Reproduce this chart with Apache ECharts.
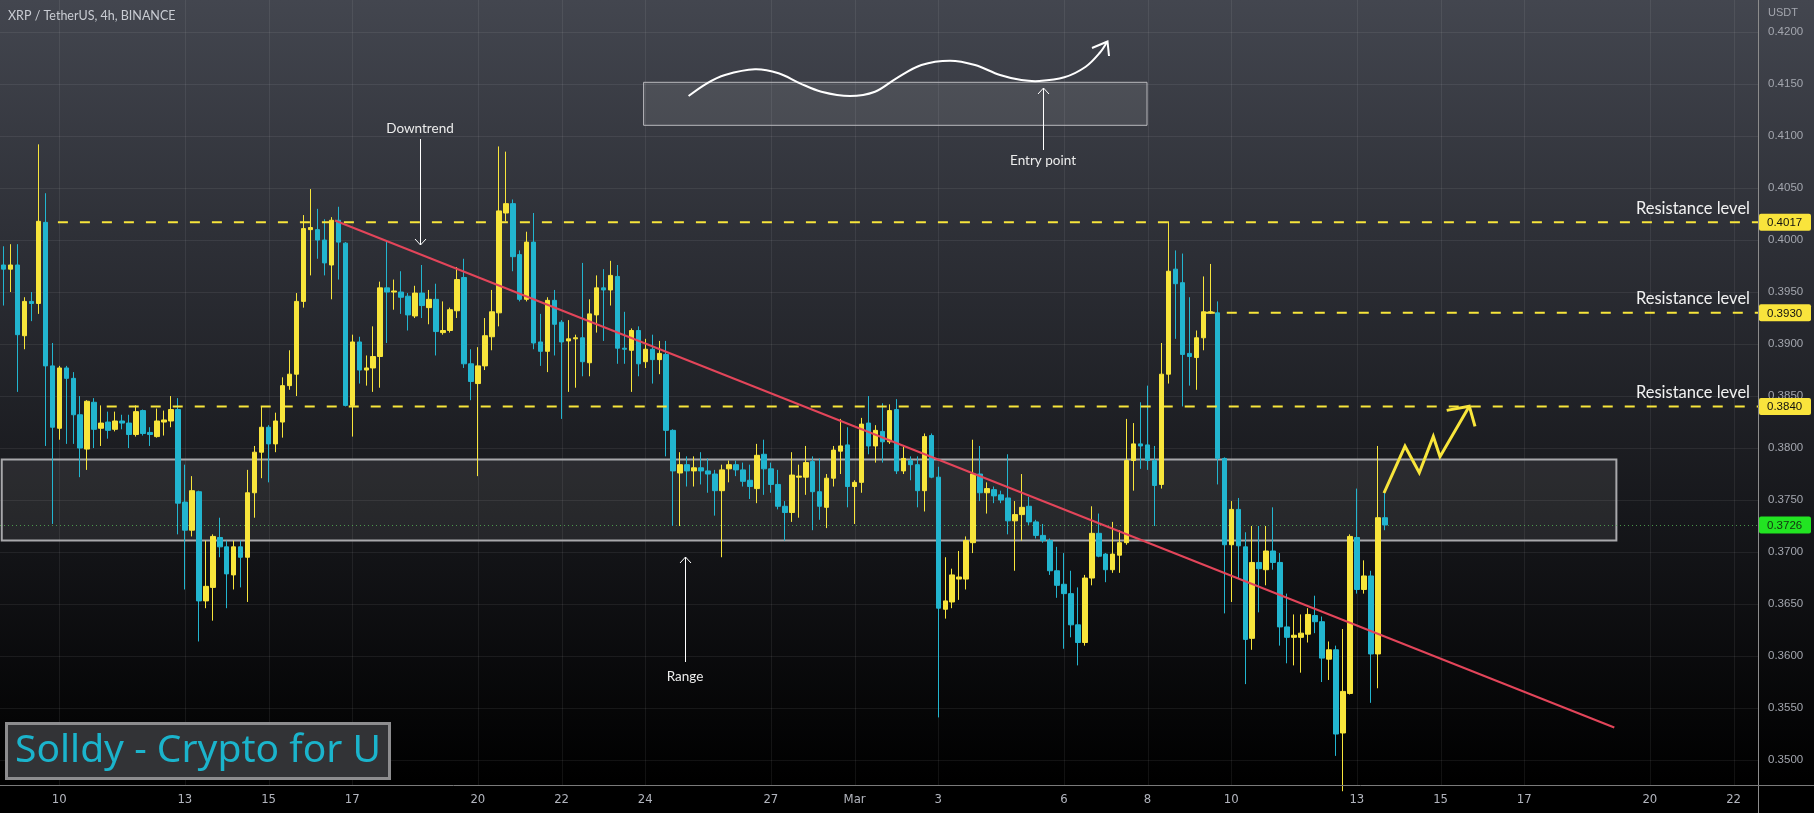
<!DOCTYPE html>
<html><head><meta charset="utf-8">
<script src="https://cdn.jsdelivr.net/npm/echarts@6/dist/echarts.min.js"></script>
<style>html,body{margin:0;padding:0;background:#000;}#c{width:1814px;height:813px;}</style>
</head><body><div id="c"></div>
<script>
// ---- data ----
const startTime = Date.UTC(2023, 1, 8, 16); // first visible 4h candle
const slotCount = 252;                      // visible 4h slots incl. future space
const open = [0.3976,0.3972,0.3976,0.3908,0.3941,0.3939,0.4017,0.3879,0.3819,0.3877,
0.3867,0.3832,0.3799,0.3844,0.3819,0.3825,0.3818,0.3826,0.3824,0.3813,
0.3836,0.3815,0.3811,0.3825,0.3826,0.3837,0.3748,0.3721,0.3758,0.3653,
0.3666,0.3714,0.3705,0.3678,0.3705,0.3695,0.3757,0.3796,0.3820,0.3804,
0.3825,0.3860,0.3871,0.3941,0.4010,0.4010,0.4000,0.3976,0.4019,0.3997,
0.3841,0.3902,0.3875,0.3877,0.3888,0.3954,0.3950,0.3950,0.3946,0.3927,
0.3949,0.3935,0.3943,0.3911,0.3913,0.3932,0.3964,0.3881,0.3862,0.3879,
0.3907,0.3930,0.4026,0.4035,0.3986,0.3943,0.3998,0.3902,0.3893,0.3942,
0.3921,0.3903,0.3905,0.3906,0.3882,0.3928,0.3954,0.3952,0.3965,0.3896,
0.3894,0.3913,0.3883,0.3895,0.3885,0.3890,0.3817,0.3776,0.3784,0.3778,
0.3781,0.3778,0.3775,0.3759,0.3780,0.3784,0.3779,0.3769,0.3761,0.3794,
0.3780,0.3765,0.3744,0.3738,0.3772,0.3772,0.3787,0.3758,0.3743,0.3771,
0.3797,0.3803,0.3763,0.3767,0.3824,0.3802,0.3816,0.3806,0.3837,0.3778,
0.3788,0.3784,0.3759,0.3812,0.3772,0.3645,0.3652,0.3674,0.3674,0.3709,
0.3775,0.3757,0.3760,0.3755,0.3752,0.3730,0.3736,0.3744,0.3729,0.3716,
0.3711,0.3682,0.3669,0.3660,0.3630,0.3613,0.3675,0.3718,0.3698,0.3683,
0.3697,0.3709,0.3788,0.3804,0.3803,0.3788,0.3765,0.3871,0.3972,0.3959,
0.3891,0.3887,0.3906,0.3930,0.3930,0.3790,0.3707,0.3741,0.3705,0.3617,
0.3690,0.3683,0.3701,0.3690,0.3628,0.3618,0.3618,0.3621,0.3639,0.3633,
0.3597,0.3606,0.3526,0.3564,0.3714,0.3664,0.3677,0.3602,0.3733];
const close = [0.3972,0.3976,0.3909,0.3941,0.3939,0.4018,0.3879,0.3820,0.3877,0.3867,
0.3832,0.3800,0.3845,0.3818,0.3824,0.3817,0.3826,0.3824,0.3813,0.3835,
0.3814,0.3813,0.3826,0.3827,0.3837,0.3747,0.3721,0.3759,0.3653,0.3667,
0.3715,0.3705,0.3679,0.3705,0.3695,0.3757,0.3796,0.3820,0.3804,0.3826,
0.3860,0.3871,0.3941,0.4011,0.4012,0.4000,0.3978,0.4019,0.3998,0.3841,
0.3902,0.3875,0.3877,0.3888,0.3954,0.3950,0.3951,0.3945,0.3928,0.3949,
0.3937,0.3943,0.3912,0.3913,0.3933,0.3962,0.3881,0.3864,0.3879,0.3908,
0.3931,0.4028,0.4035,0.3984,0.3943,0.3998,0.3901,0.3893,0.3942,0.3919,
0.3902,0.3905,0.3906,0.3883,0.3929,0.3954,0.3952,0.3966,0.3896,0.3895,
0.3913,0.3881,0.3895,0.3885,0.3891,0.3817,0.3778,0.3784,0.3778,0.3781,
0.3778,0.3775,0.3759,0.3779,0.3784,0.3779,0.3768,0.3763,0.3793,0.3780,
0.3765,0.3744,0.3738,0.3774,0.3773,0.3786,0.3758,0.3744,0.3771,0.3798,
0.3802,0.3763,0.3767,0.3823,0.3802,0.3817,0.3806,0.3836,0.3778,0.3790,
0.3784,0.3759,0.3811,0.3772,0.3646,0.3653,0.3678,0.3676,0.3711,0.3775,
0.3757,0.3761,0.3754,0.3750,0.3730,0.3736,0.3743,0.3729,0.3716,0.3711,
0.3682,0.3668,0.3660,0.3630,0.3613,0.3675,0.3718,0.3696,0.3683,0.3698,
0.3709,0.3788,0.3804,0.3802,0.3788,0.3764,0.3871,0.3970,0.3958,0.3890,
0.3888,0.3906,0.3931,0.3931,0.3790,0.3707,0.3741,0.3706,0.3616,0.3690,
0.3684,0.3701,0.3690,0.3628,0.3618,0.3620,0.3622,0.3640,0.3633,0.3598,
0.3606,0.3525,0.3566,0.3715,0.3664,0.3677,0.3602,0.3733,0.3726];
const low = [0.3937,0.3950,0.3854,0.3895,0.3922,0.3929,0.3802,0.3727,0.3808,0.3804,
0.3804,0.3772,0.3779,0.3800,0.3802,0.3809,0.3816,0.3818,0.3800,0.3811,
0.3812,0.3802,0.3810,0.3812,0.3820,0.3717,0.3664,0.3715,0.3614,0.3646,
0.3634,0.3695,0.3646,0.3664,0.3666,0.3652,0.3733,0.3771,0.3767,0.3796,
0.3810,0.3856,0.3850,0.3935,0.3966,0.3982,0.3966,0.3943,0.3962,0.3840,
0.3811,0.3862,0.3860,0.3854,0.3858,0.3901,0.3933,0.3929,0.3913,0.3925,
0.3925,0.3919,0.3889,0.3909,0.3911,0.3925,0.3877,0.3846,0.3773,0.3875,
0.3894,0.3917,0.4018,0.3970,0.3941,0.3941,0.3895,0.3879,0.3873,0.3889,
0.3828,0.3854,0.3858,0.3869,0.3869,0.3911,0.3903,0.3937,0.3881,0.3881,
0.3854,0.3869,0.3877,0.3862,0.3871,0.3792,0.3725,0.3725,0.3763,0.3763,
0.3765,0.3757,0.3735,0.3695,0.3767,0.3773,0.3763,0.3751,0.3747,0.3755,
0.3757,0.3741,0.3711,0.3729,0.3733,0.3755,0.3721,0.3731,0.3723,0.3763,
0.3775,0.3743,0.3727,0.3757,0.3794,0.3786,0.3786,0.3804,0.3775,0.3775,
0.3769,0.3743,0.3739,0.3771,0.3541,0.3636,0.3646,0.3654,0.3664,0.3699,
0.3749,0.3737,0.3747,0.3747,0.3717,0.3682,0.3711,0.3726,0.3713,0.3709,
0.3678,0.3656,0.3607,0.3618,0.3591,0.3610,0.3668,0.3695,0.3671,0.3680,
0.3680,0.3707,0.3759,0.3780,0.3779,0.3725,0.3761,0.3862,0.3905,0.3840,
0.3860,0.3856,0.3894,0.3929,0.3765,0.3641,0.3652,0.3674,0.3573,0.3606,
0.3642,0.3668,0.3683,0.3610,0.3593,0.3591,0.3584,0.3613,0.3622,0.3575,
0.3577,0.3504,0.3470,0.3563,0.3660,0.3660,0.3555,0.3569,0.3721];
const high = [0.3994,0.3996,0.3996,0.3945,0.3950,0.4092,0.4045,0.3901,0.3879,0.3879,
0.3873,0.3850,0.3846,0.3848,0.3841,0.3835,0.3835,0.3832,0.3832,0.3841,
0.3837,0.3820,0.3838,0.3836,0.3850,0.3848,0.3784,0.3773,0.3759,0.3711,
0.3717,0.3733,0.3711,0.3711,0.3711,0.3779,0.3802,0.3840,0.3822,0.3834,
0.3868,0.3894,0.3949,0.4024,0.4049,0.4030,0.4020,0.4022,0.4032,0.3998,
0.3909,0.3907,0.3889,0.3917,0.3960,0.4000,0.3962,0.3970,0.3949,0.3956,
0.3976,0.3952,0.3958,0.3941,0.3935,0.3974,0.3982,0.3895,0.3897,0.3925,
0.3952,0.4090,0.4085,0.4039,0.3990,0.4008,0.4026,0.3929,0.3945,0.3952,
0.3923,0.3923,0.3909,0.3978,0.3943,0.3966,0.3972,0.3980,0.3976,0.3931,
0.3915,0.3917,0.3905,0.3909,0.3903,0.3903,0.3818,0.3796,0.3792,0.3792,
0.3796,0.3790,0.3779,0.3784,0.3788,0.3788,0.3786,0.3784,0.3804,0.3808,
0.3786,0.3779,0.3749,0.3796,0.3784,0.3802,0.3792,0.3790,0.3775,0.3802,
0.3828,0.3820,0.3769,0.3829,0.3850,0.3822,0.3843,0.3842,0.3847,0.3801,
0.3792,0.3792,0.3814,0.3814,0.3782,0.3695,0.3684,0.3701,0.3715,0.3808,
0.3802,0.3767,0.3763,0.3759,0.3794,0.3749,0.3775,0.3753,0.3731,0.3727,
0.3713,0.3705,0.3699,0.3682,0.3666,0.3678,0.3744,0.3737,0.3699,0.3729,
0.3721,0.3828,0.3824,0.3844,0.3860,0.3802,0.3901,0.4018,0.3990,0.3987,
0.3945,0.3913,0.3965,0.3977,0.3941,0.3791,0.3749,0.3752,0.3719,0.3725,
0.3725,0.3725,0.3743,0.3699,0.3660,0.3640,0.3640,0.3646,0.3658,0.3638,
0.3614,0.3610,0.3626,0.3717,0.3761,0.3692,0.3682,0.3802,0.3757];

const priceTicks = [0.35,0.355,0.36,0.365,0.37,0.375,0.38,0.385,0.39,0.395,0.40,0.405,0.41,0.415,0.42];
const tickDates  = ['2023-02-10','2023-02-13','2023-02-15','2023-02-17','2023-02-20','2023-02-22','2023-02-24','2023-02-27','2023-03-01','2023-03-03','2023-03-06','2023-03-08','2023-03-10','2023-03-13','2023-03-15','2023-03-17','2023-03-20','2023-03-22'];
const tickLabels = ['10','13','15','17','20','22','24','27','Mar','3','6','8','10','13','15','17','20','22'];

const resistanceLevels = [0.4017, 0.3930, 0.3840];
const resistanceStartIdx = [7.8, 172.2, 14.8];
const lastPrice = 0.3726;
const rangeZone = [0.3711, 0.3789];
const rangeZoneIdx = [-0.25, 231.2];
const trendStart = [47.5, 0.40188];
const trendEnd = [230.9, 0.35313];

// ---- build ----
const categories = [];
for (let k = 0; k < slotCount; k++) {
  const s = new Date(startTime + k * 4 * 3600e3).toISOString();
  categories.push(s.slice(0, 10) + ' ' + s.slice(11, 16));
}
const labelMap = {};
tickDates.forEach((d, i) => { labelMap[d + ' 00:00'] = tickLabels[i]; });
const candles = open.map((o, k) => [o, close[k], low[k], high[k]]);

const YEL = '#f8e53b', CYAN = '#22b5cf';
const chart = echarts.init(document.getElementById('c'), null, {renderer: 'canvas'});
chart.setOption({
  animation: false,
  grid: {left: 0, right: 56, top: 0, bottom: 28},
  xAxis: {
    type: 'category', data: categories, boundaryGap: true,
    axisLine: {show: false}, axisTick: {show: false}, splitLine: {show: false},
    axisLabel: {
      interval: (idx, val) => labelMap[val] !== undefined,
      formatter: val => labelMap[val] || '',
      color: '#b2b5be', fontSize: 13, fontFamily: '"Liberation Sans Narrow","DejaVu Sans Condensed",sans-serif', margin: 8
    }
  },
  yAxis: {
    type: 'value', position: 'right', min: 0.3476, max: 0.42308,
    axisLine: {show: false}, axisTick: {show: false}, splitLine: {show: false},
    axisLabel: {
      customValues: priceTicks, formatter: v => v.toFixed(4),
      color: '#a3a6ae', fontSize: 11.5, fontFamily: '"Liberation Sans",Arial,sans-serif', margin: 10
    }
  },
  series: [{
    type: 'candlestick', data: candles, barWidth: 5, z: 5,
    itemStyle: {color: YEL, color0: CYAN, borderColor: YEL, borderColor0: CYAN, borderWidth: 1}
  }]
});

// ---- annotations anchored to data coords ----
const cx0 = chart.convertToPixel({xAxisIndex: 0}, categories[0]);
const cx1 = chart.convertToPixel({xAxisIndex: 0}, categories[1]);
const X = i => cx0 + (cx1 - cx0) * i;
const Y = p => chart.convertToPixel({yAxisIndex: 0}, p);
const PR = 1758, PB = 785;
const g = [];
const line = (x1, y1, x2, y2, style, z) => g.push({type: 'line', silent: true, z: z || 20, shape: {x1, y1, x2, y2}, style: Object.assign({fill: null}, style)});
const text = (x, y, t, style, z) => g.push({type: 'text', silent: true, z: z || 30, x, y, style: Object.assign({text: t}, style)});

g.push({type: 'rect', silent: true, z: -100, shape: {x: 0, y: 0, width: 1814, height: 813},
  style: {fill: new echarts.graphic.LinearGradient(0, 0, 0, 1, [
    {offset: 0, color: '#43464f'}, {offset: 0.3, color: '#2d2f36'}, {offset: 0.62, color: '#17181c'}, {offset: 0.96, color: '#000000'}])}});
g.push({type: 'rect', silent: true, z: -99, shape: {x: 0, y: PB, width: 1814, height: 813 - PB}, style: {fill: '#000'}});

// grid lines
priceTicks.forEach(p => { const y = Math.round(Y(p)) + 0.5; line(0, y, PR, y, {stroke: 'rgba(255,255,255,0.07)', lineWidth: 1}, -50); });
tickDates.forEach(d => { const i = categories.indexOf(d + ' 00:00'); const x = Math.round(X(i)) + 0.5; line(x, 0, x, PB, {stroke: 'rgba(255,255,255,0.07)', lineWidth: 1}, -50); });
// axis separators
line(PR + 0.5, 0, PR + 0.5, 813, {stroke: '#8c8c8c', lineWidth: 1}, 40);
line(0, PB + 0.5, 1814, PB + 0.5, {stroke: '#7a7a7a', lineWidth: 1}, 40);

// range zone
g.push({type: 'rect', silent: true, z: 3, shape: {x: X(rangeZoneIdx[0]), y: Y(rangeZone[1]), width: X(rangeZoneIdx[1]) - X(rangeZoneIdx[0]), height: Y(rangeZone[0]) - Y(rangeZone[1])},
  style: {fill: 'rgba(255,255,255,0.075)', stroke: '#a8a8ab', lineWidth: 2}});

// last price dotted line
const ly = Math.round(Y(lastPrice)) + 0.5;
line(0, ly, PR, ly, {stroke: 'rgba(90,190,90,0.75)', lineWidth: 1, lineDash: [1, 3]}, 4);

// trendline
line(X(trendStart[0]), Y(trendStart[1]), X(trendEnd[0]), Y(trendEnd[1]), {stroke: '#e3455a', lineWidth: 2}, 22);

// resistance levels
resistanceLevels.forEach((p, k) => {
  const y = Y(p);
  line(X(resistanceStartIdx[k]), y, PR, y, {stroke: YEL, lineWidth: 2, lineDash: [10, 12]}, 21);
  text(1750, y - 14, 'Resistance level', {fill: '#f2f2f2', font: '16.5px Lato, "Open Sans", sans-serif', align: 'right', verticalAlign: 'middle'});
  g.push({type: 'rect', silent: true, z: 50, shape: {x: PR + 1, y: y - 8.5, width: 52, height: 17, r: 2}, style: {fill: '#f9e43c'}});
  text(1767, y + 0.5, p.toFixed(4), {fill: '#111', font: '11.5px "Liberation Sans", Arial, sans-serif', align: 'left', verticalAlign: 'middle'}, 51);
});
g.push({type: 'rect', silent: true, z: 50, shape: {x: PR + 1, y: Y(lastPrice) - 8.5, width: 52, height: 17, r: 2}, style: {fill: '#22e422'}});
text(1767, Y(lastPrice) + 0.5, lastPrice.toFixed(4), {fill: '#123012', font: '11.5px "Liberation Sans", Arial, sans-serif', align: 'left', verticalAlign: 'middle'}, 51);

// entry box + wave (drawing)
g.push({type: 'rect', silent: true, z: 3, shape: {x: 643.6, y: 82.3, width: 503.4, height: 43}, style: {fill: 'rgba(255,255,255,0.09)', stroke: '#b9b9bd', lineWidth: 1}});
g.push({type: 'polyline', silent: true, z: 25, shape: {smooth: 0.35, points: [[688.6,96],[707,83.3],[725,75],[755,69.3],[778.6,73.3],[800,83.3],[821.4,91.7],[850,96],[875,91.7],[896.4,78.3],[921.4,65],[950,60.7],[975,65],[1000,75],[1021.4,80],[1039.3,81],[1064.3,77.3],[1085.7,66.7],[1100,52.5],[1107,42]]},
  style: {stroke: '#fff', lineWidth: 2, fill: null}});
g.push({type: 'polyline', silent: true, z: 25, shape: {points: [[1092,48],[1107.5,41.5],[1109,56]]}, style: {stroke: '#fff', lineWidth: 2, fill: null}});

// labeled arrows
const arrow = (x, y1, y2, up) => {
  line(x, y1, x, y2, {stroke: '#fff', lineWidth: 1}, 25);
  const tip = up ? Math.min(y1, y2) : Math.max(y1, y2), d = up ? 6 : -6;
  g.push({type: 'polyline', silent: true, z: 25, shape: {points: [[x - 5.5, tip + d], [x, tip], [x + 5.5, tip + d]]}, style: {stroke: '#fff', lineWidth: 1, fill: null}});
};
arrow(1043.5, 150, 88, true);
text(1043, 161, 'Entry point', {fill: '#ececec', font: '13.5px Lato, sans-serif', align: 'center', verticalAlign: 'middle'});
arrow(420.5, 139, 245, false);
text(420, 129, 'Downtrend', {fill: '#ececec', font: '13.5px Lato, sans-serif', align: 'center', verticalAlign: 'middle'});
arrow(685.5, 662, 557, true);
text(685, 677, 'Range', {fill: '#ececec', font: '13.5px Lato, sans-serif', align: 'center', verticalAlign: 'middle'});

// yellow projection zigzag
g.push({type: 'polyline', silent: true, z: 26, shape: {points: [[1384,493],[1405,446.2],[1419.3,472.7],[1433.3,436.5],[1440,456.7],[1469.3,406.2]]}, style: {stroke: YEL, lineWidth: 3, fill: null, lineJoin: 'miter'}});
g.push({type: 'polyline', silent: true, z: 26, shape: {points: [[1446.7,410.4],[1469.3,406.2],[1475,426.4]]}, style: {stroke: YEL, lineWidth: 3, fill: null}});

// title, unit, logo
text(8, 16, 'XRP / TetherUS, 4h, BINANCE', {fill: '#c9ccd3', font: '12.5px Lato, sans-serif', align: 'left', verticalAlign: 'middle'});
text(1768, 13, 'USDT', {fill: '#a3a6ae', font: '11px "Liberation Sans", Arial, sans-serif', align: 'left', verticalAlign: 'middle'});
g.push({type: 'rect', silent: true, z: 60, shape: {x: 6.5, y: 723.5, width: 383, height: 55}, style: {fill: '#323336', stroke: '#8d8d8f', lineWidth: 3}});
text(15, 751, 'Solldy - Crypto for U', {fill: '#1bb4cc', font: '39px "Noto Sans", "Open Sans", sans-serif', align: 'left', verticalAlign: 'middle'}, 61);

chart.setOption({graphic: {elements: g}});
</script>
</body></html>
